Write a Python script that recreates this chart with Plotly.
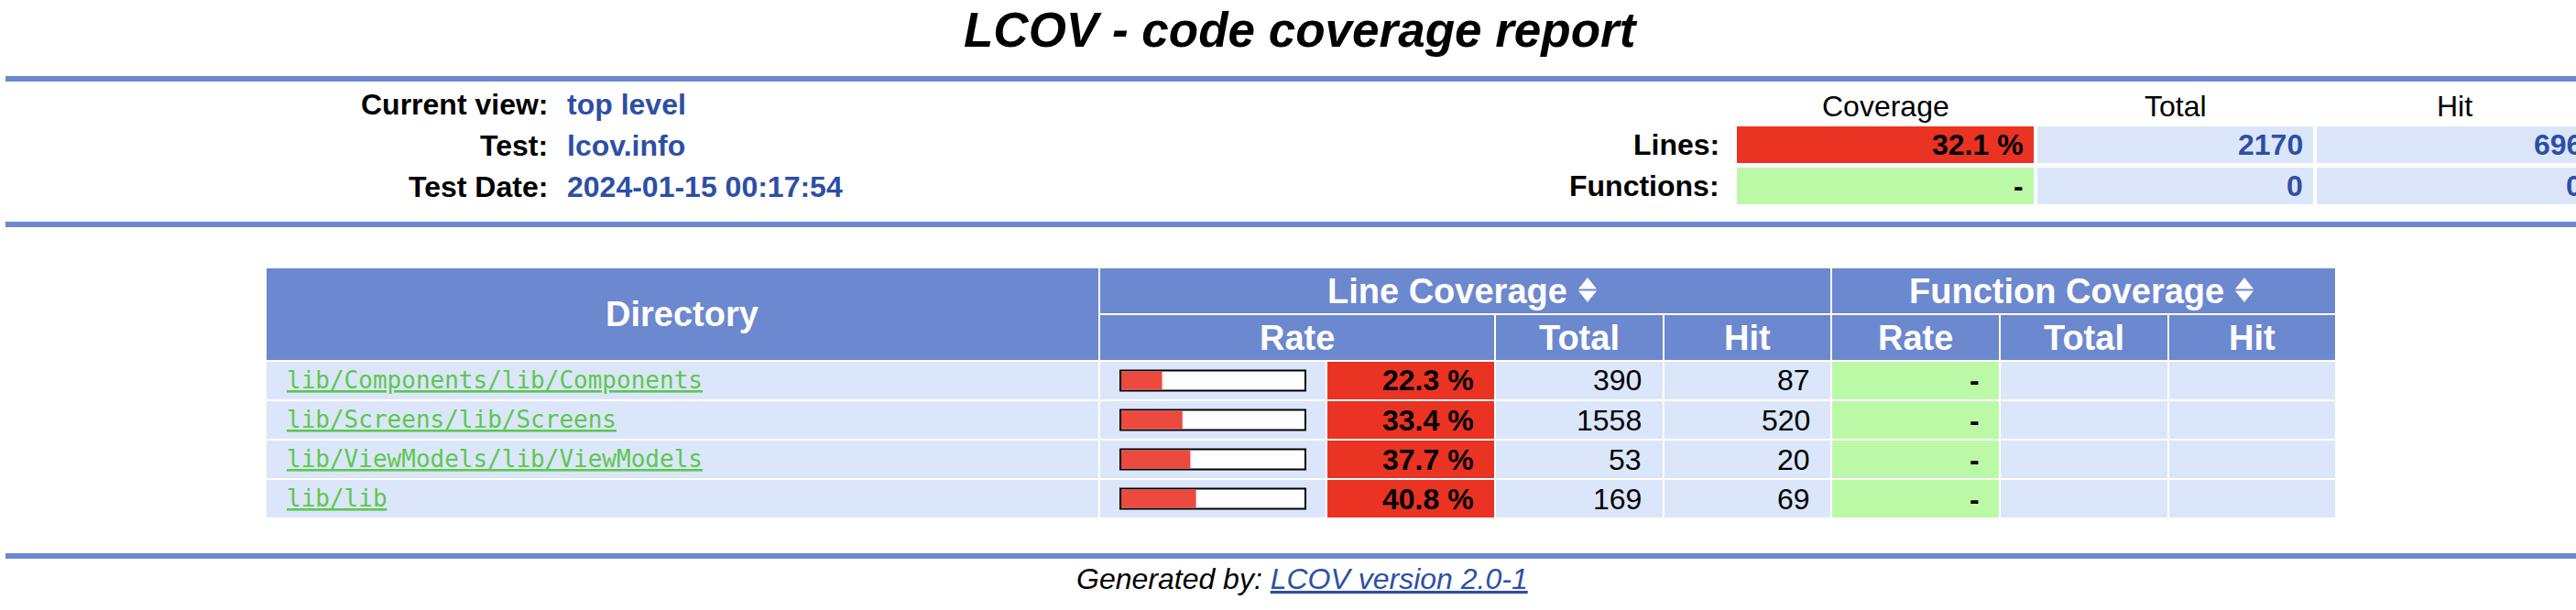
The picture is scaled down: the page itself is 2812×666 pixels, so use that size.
import plotly.graph_objects as go

W, H = 2812, 666

# header block (top left)
info_labels = ['Current view:', 'Test:', 'Test Date:']
info_values = ['top level', 'lcov.info', '2024-01-15 00:17:54']

# summary block (top right)
summary_heads = ['Coverage', 'Total', 'Hit']
summary_labels = ['Lines:', 'Functions:']
summary_rate = [32.1, None]
summary_total = [2170, 0]
summary_hit = [696, 0]

# directory table
group_heads = ['Line Coverage', 'Function Coverage']
sub_heads = ['Rate', 'Total', 'Hit', 'Rate', 'Total', 'Hit']
directories = ['lib/Components/lib/Components', 'lib/Screens/lib/Screens',
               'lib/ViewModels/lib/ViewModels', 'lib/lib']
line_rate = [22.3, 33.4, 37.7, 40.8]
line_total = [390, 1558, 53, 169]
line_hit = [87, 520, 20, 69]
func_rate = [None, None, None, None]
func_total = ['', '', '', '']
func_hit = ['', '', '', '']

footer_text = 'Generated by: '
footer_link = 'LCOV version 2.0-1'

RULER = '#6c88ce'
CELL = '#dbe6fa'
LO = '#ea3323'
MED = '#fdf45b'
HI = '#a7fc9d'
NONE = '#bbf9a7'
BAR = '#ec4a3e'
VALUE = '#2d4fa5'
LINK = '#5bc84c'

SANS = 'Liberation Sans, Arial, Helvetica, sans-serif'
MONO = 'DejaVu Sans Mono, monospace'

shapes = []
annotations = []


def px(x):
    return x / W


def py(y):
    return 1 - y / H


def rect(x0, x1, y0, y1, color):
    shapes.append(dict(type='rect', xref='paper', yref='paper', x0=px(x0), x1=px(x1),
                       y0=py(y1), y1=py(y0), fillcolor=color, line_width=0, layer='below'))


def text(x, y, s, size=32, color='black', anchor='center', weight='normal',
         style='normal', family=SANS):
    annotations.append(dict(xref='paper', yref='paper', x=px(x), y=py(y), text=s,
                            showarrow=False, xanchor=anchor, yanchor='middle', borderpad=0,
                            font=dict(family=family, size=size, color=color,
                                      weight=weight, style=style)))


def rate_color(r):
    if r is None:
        return NONE
    if r < 75:
        return LO
    if r < 90:
        return MED
    return HI


def rate_text(r):
    return '-' if r is None else f'{r:.1f} %'


# title and rulers
text(1420, 32.5, 'LCOV - code coverage report', size=53, weight='bold', style='italic')
for y0 in [83, 242, 604]:
    rect(6, W + 20, y0, y0 + 6, RULER)

# top left info
for i, (lab, val) in enumerate(zip(info_labels, info_values)):
    y = 113.8 + 45 * i
    text(599, y, lab, weight='bold', anchor='right')
    text(618, y, val, weight='bold', anchor='left', color=VALUE)

# top right summary
sum_cols = [(1896, 2220), (2224, 2525), (2529, 2830)]
for (x0, x1), h in zip(sum_cols, summary_heads):
    text((x0 + x1) / 2, 115.5, h, size=32)
for i, lab in enumerate(summary_labels):
    y0 = 138 + 45 * i
    yc = y0 + 20
    text(1878, yc, lab, weight='bold', anchor='right')
    rect(*sum_cols[0], y0, y0 + 40, rate_color(summary_rate[i]))
    text(sum_cols[0][1] - 10, yc, rate_text(summary_rate[i]), weight='bold', anchor='right')
    rect(*sum_cols[1], y0, y0 + 40, CELL)
    text(sum_cols[1][1] - 10, yc, str(summary_total[i]), weight='bold', anchor='right', color=VALUE)
    rect(*sum_cols[2], y0, y0 + 40, CELL)
    text(sum_cols[2][1] - 10, yc, str(summary_hit[i]), weight='bold', anchor='right', color=VALUE)

# table header
rect(291, 1199, 293, 393, RULER)
text(745, 343, 'Directory', size=38, color='white', weight='bold')
groups = [(1201, 1998, 1712), (2000, 2549, 2429)]
for (x0, x1, tx), g in zip(groups, group_heads):
    rect(x0, x1, 293, 342, RULER)
    text(tx, 317.5, g, size=38, color='white', weight='bold', anchor='right')
    ax = tx + 11
    shapes.append(dict(type='path', xref='paper', yref='paper', fillcolor='white', line_width=0,
                       path=f'M{px(ax)},{py(315.5)} L{px(ax + 20)},{py(315.5)} L{px(ax + 10)},{py(303)} Z'))
    shapes.append(dict(type='path', xref='paper', yref='paper', fillcolor='white', line_width=0,
                       path=f'M{px(ax)},{py(317.5)} L{px(ax + 20)},{py(317.5)} L{px(ax + 10)},{py(330)} Z'))
sub_cols = [(1201, 1631), (1633, 1815), (1817, 1998), (2000, 2182), (2184, 2366), (2368, 2549)]
for (x0, x1), s in zip(sub_cols, sub_heads):
    rect(x0, x1, 344, 393, RULER)
    text((x0 + x1) / 2, 368.5, s, size=38, color='white', weight='bold')

# table rows
ROW0, PITCH, ROWH = 395, 43, 41
for i, d in enumerate(directories):
    y0 = ROW0 + PITCH * i
    yc = y0 + ROWH / 2
    rect(291, 1199, y0, y0 + ROWH, CELL)
    text(312, yc - 1, f'<u>{d}</u>', size=26, color=LINK, anchor='left', family=MONO)
    rect(1201, 1447, y0, y0 + ROWH, CELL)
    rect(1449, 1631, y0, y0 + ROWH, rate_color(line_rate[i]))
    text(1610, yc, rate_text(line_rate[i]), weight='bold', anchor='right')
    rect(1633, 1815, y0, y0 + ROWH, CELL)
    text(1793, yc, str(line_total[i]), anchor='right')
    rect(1817, 1998, y0, y0 + ROWH, CELL)
    text(1977, yc, str(line_hit[i]), anchor='right')
    rect(2000, 2182, y0, y0 + ROWH, rate_color(func_rate[i]))
    text(2162, yc, rate_text(func_rate[i]), weight='bold', anchor='right')
    rect(2184, 2366, y0, y0 + ROWH, CELL)
    text(2346, yc, func_total[i], anchor='right')
    rect(2368, 2549, y0, y0 + ROWH, CELL)
    text(2529, yc, func_hit[i], anchor='right')

# footer
text(1421, 631.5, f'{footer_text}<span style="color:{VALUE}"><u>{footer_link}</u></span>',
     style='italic')

# rate bars (frame, empty track, filled part)
fig = go.Figure()
fig.add_trace(go.Bar(y=directories, x=[102] * len(directories), base=-1, orientation='h',
                     width=24 / PITCH, marker=dict(color='black', line_width=0), hoverinfo='skip'))
fig.add_trace(go.Bar(y=directories, x=[100] * len(directories), base=0, orientation='h',
                     width=20 / PITCH, marker=dict(color='white', line_width=0), hoverinfo='skip'))
fig.add_trace(go.Bar(y=directories, x=line_rate, base=0, orientation='h',
                     width=20 / PITCH, marker=dict(color=BAR, line_width=0), hoverinfo='skip'))

fig.update_layout(
    width=W, height=H,
    margin=dict(l=0, r=0, t=0, b=0),
    paper_bgcolor='white', plot_bgcolor='rgba(0,0,0,0)',
    showlegend=False, barmode='overlay',
    xaxis=dict(domain=[px(1222), px(1426)], range=[-1, 101], visible=False, fixedrange=True),
    yaxis=dict(domain=[py(ROW0 - 1 + PITCH * len(directories)), py(ROW0 - 1)],
               range=[len(directories) - 0.5, -0.5], type='category', visible=False, fixedrange=True),
    shapes=shapes,
    annotations=annotations,
)

fig.write_html('out.html', config={'displayModeBar': False},
               post_script="document.body.style.margin='0';")
